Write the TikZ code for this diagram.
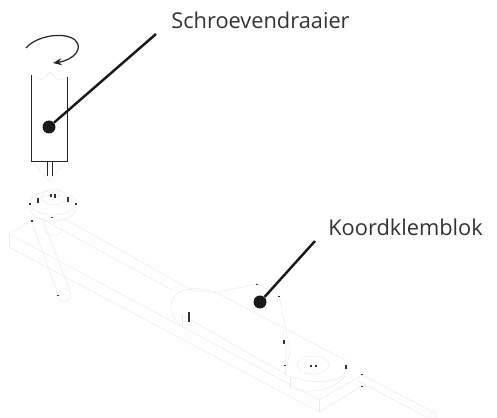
\documentclass[tikz,border=0pt]{standalone}
\usepackage{fontspec}
\setmainfont{Open Sans}
\usetikzlibrary{positioning}
\usetikzlibrary{arrows.meta}
\tikzset{
  pale/.style={draw=black!9,line width=0.25pt},
  hair/.style={draw=black!85,line width=0.55pt},
  speck/.style={black!80,line width=0.6pt},
  leader/.style={draw=black!90,line width=1.4pt},
  blob/.style={circle,fill=black!90,inner sep=0pt,minimum size=0.26cm},
  callout/.style={font=\fontsize{12.4}{14}\selectfont,inner sep=0pt,anchor=base west,text=black!80}
}
\begin{document}
\begin{tikzpicture}[x=0.02cm,y=-0.02cm]
 \useasboundingbox (0,0) rectangle (497,418);
 % block
 \draw[pale](9,234)--(319,400)--(362,375);
 \draw[pale](9,247)--(319,412)--(362,386);
 \draw[pale](9,234)--(9,247);
 \draw[pale](319,400)--(319,412);
 \draw[pale](9,234)--(33,220);
 \draw[pale](63,218)--(188,288);
 \draw[pale](40,218)--(172,290);
 % clamp
 \draw[pale](217,293)--(345,360);
 \draw[pale](182,315)--(290,377);
 \draw[pale](182,315)--(182,327);
 \draw[pale](290,377)--(290,388);
 \draw[pale](217,293) .. controls (190,282) and (166,292) .. (172,312) .. controls (174,320) and (178,322) .. (182,327);
 \draw[pale](345,360) .. controls (350,368) and (345,378) .. (333,380) .. controls (318,384) and (302,380) .. (290,377);
 \draw[pale](290,388) .. controls (308,394) and (332,392) .. (345,376);
 \draw[pale](313,365) ellipse (16 and 9);
 \draw[pale,dotted](313,365) ellipse (9 and 5);
 % cord
 \draw[pale](187,289)--(213,293)--(257,284)--(279,295)--(286,330)--(290,352)--(285,375);
 \draw[pale](283,330)--(286,352)--(285,375);
 \draw[pale](362,375)--(433,412);
 \draw[pale](358,381)--(430,419);
 \draw[pale](433,416) ellipse (3 and 5);
 \draw[pale](31,220)--(58,294);
 \draw[pale](42,218)--(70,290);
 \draw[pale](64,295) ellipse (6.5 and 6.5);
 % washer
 \draw[pale](53,203) ellipse (23 and 12);
 \draw[pale](53,208) ellipse (23 and 13);
 \draw[pale](54,197) ellipse (12 and 8);
 \draw[pale](54,195) ellipse (5 and 3);
 \draw[pale](45,217)--(45,230) .. controls (46,237) and (60,237) .. (62,230)--(62,217);
 % screwdriver
 \draw[pale](32,76)--(42,80)--(50,72)--(58,80)--(67,77);
 \draw[pale](32,161)--(49,181)--(67,161);
 \draw[hair](31.5,75)--(31.5,161)--(67.5,161)--(67.5,77);
 \draw[hair](47,161)--(47,176);
 \draw[hair](52,161)--(52,176);
 \draw[hair,line width=0.7pt,-{Stealth[length=5pt,width=4pt]}](26,48) .. controls (36,36) and (64,31) .. (75,40) .. controls (84,48) and (74,60) .. (53,63);
 % specks
 \foreach \sx/\sy/\sl in {38/198/5,68/197/5,76/203/2,30/203/2,51/194/3,55/194/4,52/217/1,32/220/2,58/295/1,189/312/10,257/284/1,279/296/1,284/340/4,285/365/1,311/365/2,316/365/2,346/365/4,362/374/1,362/386/1}
  \draw[speck](\sx,\sy)--(\sx,\sy+\sl);
 % labels
 \node[blob](drv) at (49,127){};
 \node[blob](blk) at (260,302){};
 \coordinate (drvend) at (156,34);
 \coordinate (blkend) at (315,241);
 \draw[leader](drv)--(drvend);
 \draw[leader](blk)--(blkend);
 \node[callout](drvlab) at (171,29){Schroevendraaier};
 \node[callout](blklab) at (328,236){Koordklemblok};
\end{tikzpicture}
\end{document}
